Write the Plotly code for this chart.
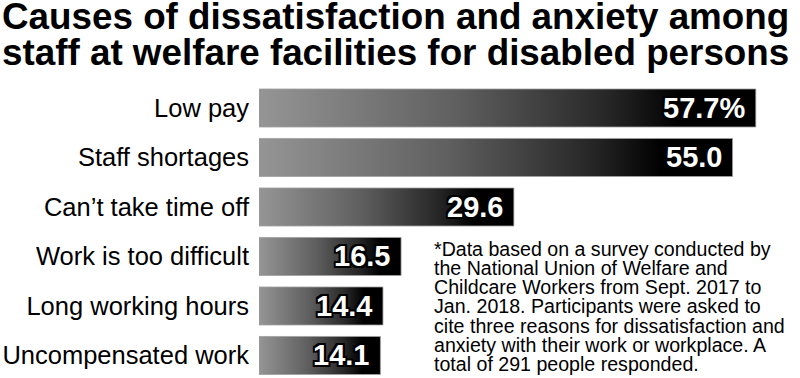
import plotly.graph_objects as go

categories = ["Low pay", "Staff shortages", "Can’t take time off",
              "Work is too difficult", "Long working hours", "Uncompensated work"]
values = [57.7, 55.0, 29.6, 16.5, 14.4, 14.1]
value_labels = ["57.7%", "55.0", "29.6", "16.5", "14.4", "14.1"]
title_lines = ["Causes of dissatisfaction and anxiety among",
               "staff at welfare facilities for disabled persons"]
note_lines = ["*Data based on a survey conducted by",
              "the National Union of Welfare and",
              "Childcare Workers from Sept. 2017 to",
              "Jan. 2018. Participants were asked to",
              "cite three reasons for dissatisfaction and",
              "anxiety with their work or workplace. A",
              "total of 291 people responded."]

W, H = 800, 378
L, R, T, B = 259, 0, 83, 0
PW, PH = W - L - R, H - T - B
FONT = "Liberation Sans, Arial, Helvetica, sans-serif"


def px(x):
    return (x - L) / PW


def py(y):
    return (H - B - y) / PH


grad = [[0.0, "#959595"], [0.4, "#5f5f5f"], [0.7, "#272727"], [0.85, "#000000"], [1.0, "#000000"]]

fig = go.Figure()
half = 0.384
for i, (c, v) in enumerate(zip(categories, values)):
    fig.add_trace(go.Scatter(
        x=[0, v, v, 0, 0],
        y=[i - half, i - half, i + half, i + half, i - half],
        mode="lines", fill="toself",
        fillgradient=dict(type="horizontal", colorscale=grad),
        line=dict(color="#a0a0a0", width=0.8),
        hoverinfo="skip", showlegend=False))

outline = ", ".join(f"{dx}px {dy}px 0 #000" for dx in (-2, 0, 2) for dy in (-2, 0, 2) if dx or dy)
annotations = []
for i, (v, lab) in enumerate(zip(values, value_labels)):
    annotations.append(dict(
        x=v, y=i, xref="x", yref="y", text=f"<b>{lab}</b>", showarrow=False,
        xanchor="right", yanchor="middle", xshift=-9,
        font=dict(family=FONT, size=29, color="white", shadow=outline)))

title_fs = 36.8
for k, line in enumerate(title_lines):
    base = 28.5 + 36 * k
    annotations.append(dict(
        x=px(0), y=py(base - 0.33 * title_fs), xref="paper", yref="paper",
        text=f"<b>{line}</b>", showarrow=False, xanchor="left", yanchor="middle",
        font=dict(family=FONT, size=title_fs, color="black")))

note_fs = 19.6
for k, line in enumerate(note_lines):
    base = 255 + 19.3 * k
    annotations.append(dict(
        x=px(432), y=py(base - 0.33 * note_fs), xref="paper", yref="paper",
        text=line, showarrow=False, xanchor="left", yanchor="middle",
        font=dict(family=FONT, size=note_fs, color="black")))

fig.update_layout(
    width=W, height=H,
    margin=dict(l=L, r=R, t=T, b=B, pad=0),
    paper_bgcolor="white", plot_bgcolor="white",
    xaxis=dict(range=[0, PW / 8.61], visible=False, fixedrange=True),
    yaxis=dict(range=[5.455, -0.505], tickvals=list(range(len(categories))),
               ticktext=categories, showgrid=False, zeroline=False, showline=False,
               ticks="", ticklabelstandoff=9,
               tickfont=dict(family=FONT, size=25.5, color="black"), fixedrange=True),
    annotations=annotations,
)

fig.write_html("out.html", config={"displayModeBar": False},
               post_script="document.body.style.margin='0';document.body.style.overflow='hidden';")
